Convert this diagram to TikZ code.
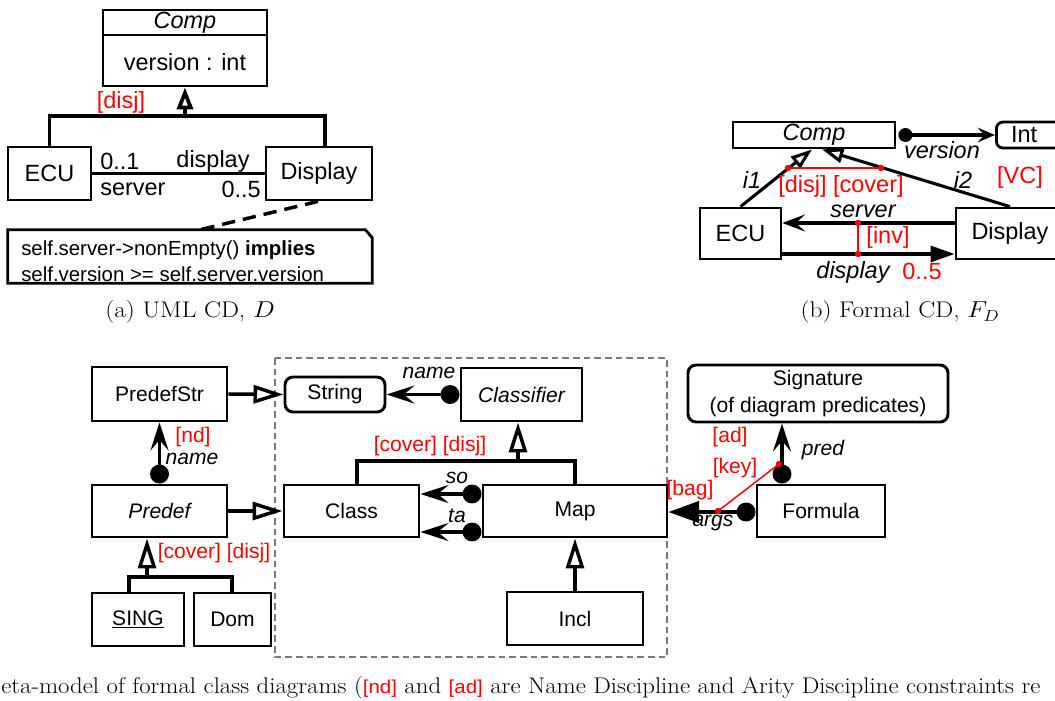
\documentclass[tikz,border=0pt]{standalone}
\usepackage{graphicx}
\usepackage{fontspec}
\newfontfamily\arial{Liberation Sans}
\usetikzlibrary{arrows.meta,calc}
\definecolor{cred}{RGB}{255,0,0}
\definecolor{frameg}{RGB}{120,120,120}
\begin{document}
\begin{tikzpicture}[x=0.75pt,y=-0.75pt,
  tbox/.style={draw, line width=2.1pt, fill=white, inner sep=0pt, font=\arial\fontsize{17.6}{20}\selectfont},
  bbox/.style={draw, line width=2.2pt, fill=white, inner sep=0pt, font=\arial\fontsize{15.8}{19}\selectfont},
  rbox/.style={bbox, rounded corners=6pt},
  conn/.style={line width=2.6pt},
  tconn/.style={line width=2.3pt},
  tlbl/.style={font=\arial\fontsize{17.6}{20}\selectfont, inner sep=0pt},
  blbl/.style={font=\arial\fontsize{15.8}{19}\selectfont, inner sep=0pt},
  rlbl/.style={text=cred},
  redline/.style={draw=cred, line width=1.1pt},
  gena/.style={-{Triangle[open, length=16.5pt, width=12pt]}},
  genb/.style={-{Triangle[open, length=16pt, width=11pt]}},
  genc/.style={-{Triangle[open, length=22.5pt, width=13.5pt]}},
  barbb/.style={-{Stealth[length=17pt, width=12.75pt, inset=7pt]}},
  barbv/.style={-{Stealth[length=13pt, width=11pt, inset=5pt]}},
  barbc/.style={-{Stealth[length=21pt, width=13.5pt, inset=8pt]}},
  fillb/.style={-{Triangle[length=18pt, width=12pt]}},
  fillc/.style={-{Triangle[length=23pt, width=16pt]}},
  capt/.style={font=\fontsize{17}{20}\selectfont, inner sep=0pt}
]
\useasboundingbox (0,0) rectangle (1055,700);
\clip (0,0) rectangle (1055,700);

% ================= (a) UML CD =================
\node (compA) [tbox, minimum width=123pt, minimum height=57pt] at (185,48) {};
\draw[line width=2.1pt] (103,35) -- (267,35);
\node[tlbl, font=\arial\itshape\fontsize{17.6}{20}\selectfont] at (185,23) {Comp};
\node[tlbl] at (185,62) {version : int};
\node (ecuA) [tbox, minimum width=62.25pt, minimum height=39.75pt] at (49.5,173.5) {ECU};
\node (dispA) [tbox, minimum width=79.5pt, minimum height=39.75pt] at (319,173.5) {Display};
\coordinate (barA) at (185,116);
\draw[conn, line width=2.8pt] (ecuA.north) |- (barA) -| ($(dispA.north)+(6,0)$);
\draw[conn, line width=2.8pt, gena] (barA) -- (compA.south);
\node[tlbl, rlbl] at (121,102) {[disj]};
\draw[tconn] (ecuA.east) -- (dispA.west);
\node[tlbl, anchor=west] at (100,161) {0..1};
\node[tlbl] at (213,161) {display};
\node[tlbl, anchor=west] at (100,189) {server};
\node[tlbl, anchor=east] at (261,189) {0..5};
% note
\node (note) [inner sep=0pt, minimum width=273pt, minimum height=39.75pt] at (190,256.5) {};
\draw[line width=2.1pt] (note.south west) -- (note.north west) -- ($(note.north east)+(-7,0)$) -- ($(note.north east)+(0,8)$) -- (note.south east) -- cycle;
\node[font=\arial\fontsize{15.3}{18}\selectfont, anchor=west, align=left, inner sep=0pt] at (21,261)
  {self.server->nonEmpty() \textbf{implies}\\[1.5pt]self.version >= self.server.version};
\draw[line width=2.6pt, dash pattern=on 10pt off 6pt] ($(dispA.south)+(-1,0)$) -- ($(note.north)+(10,0)$);
\node[capt] at (190,312) {\scalebox{1.12}[1]{(a) UML CD, $D$}};

% ================= (b) Formal CD =================
\node (compB) [tbox, minimum width=121.5pt, minimum height=19.5pt, font=\arial\itshape\fontsize{17.6}{20}\selectfont] at (814,135) {Comp};
\node (intB) [tbox, rounded corners=5pt, anchor=west, minimum height=19.5pt, text width=45pt, inner xsep=11pt, align=left] at (995,135) {Int};
\node (ecuB) [tbox, minimum width=60.75pt, minimum height=38.25pt] at (740.5,233.5) {ECU};
\node (dispB) [tbox, minimum width=81pt, minimum height=38.25pt] at (1010,233.5) {Display};
\fill ($(compB.east)+(9,0)$) circle[radius=5.25pt];
\draw[tconn, barbv] ($(compB.east)+(9,0)$) -- (intB.west);
\node[tlbl, font=\arial\itshape\fontsize{17.6}{20}\selectfont] at (942,150) {version};
\draw[tconn, genb] (ecuB.north) -- ($(compB.south)+(-2,0)$);
\draw[tconn, genb] (dispB.north) -- ($(compB.south)+(8,0)$);
\node[tlbl, font=\arial\itshape\fontsize{17.6}{20}\selectfont] at (752,180) {i1};
\node[tlbl, font=\arial\itshape\fontsize{17.6}{20}\selectfont] at (963,180) {i2};
\coordinate (dj1) at (788,168);
\coordinate (dj2) at (881,168);
\draw[redline] (dj1) -- (dj2);
\fill[cred] (dj1) circle[radius=2.4pt];
\fill[cred] (dj2) circle[radius=2.4pt];
\node[tlbl, rlbl] at (841,186) {[disj] [cover]};
\node[tlbl, rlbl] at (1020,177) {[VC]};
\draw[tconn, barbb] ($(dispB.west)+(0,-10.5)$) -- ($(ecuB.east)+(0,-10.5)$);
\draw[tconn, fillb] ($(ecuB.east)+(0,20.5)$) -- ($(dispB.west)+(0,20.5)$);
\node[tlbl, font=\arial\itshape\fontsize{17.6}{20}\selectfont] at (863,211) {server};
\node[tlbl, font=\arial\itshape\fontsize{17.6}{20}\selectfont] at (853,272) {display};
\node[tlbl, rlbl] at (922,271) {0..5};
\coordinate (iv1) at (858,223);
\coordinate (iv2) at (858,254);
\draw[redline] (iv1) -- (iv2);
\fill[cred] (iv1) circle[radius=2.4pt];
\fill[cred] (iv2) circle[radius=2.4pt];
\node[tlbl, rlbl] at (888,237) {[inv]};
\node[capt] at (900,312) {\scalebox{1.12}[1]{(b) Formal CD, $F_D$}};

% ================= Meta-model =================
\draw[frameg, line width=1.2pt, dash pattern=on 5pt off 3pt] (275,358) rectangle (667,657);
\node (predefStr) [bbox, minimum width=101.25pt, minimum height=40.5pt] at (159.5,394) {PredefStr};
\node (string) [rbox, minimum width=75pt, minimum height=26.25pt] at (335,394.5) {String};
\node (classifier) [bbox, minimum width=90.75pt, minimum height=39.75pt, font=\arial\itshape\fontsize{15.8}{19}\selectfont] at (521.5,394.5) {Classifier};
\node (signature) [rbox, minimum width=195pt, minimum height=42.75pt, align=center] at (818,393.5) {Signature\\[1pt](of diagram predicates)};
\node (predef) [bbox, minimum width=101.25pt, minimum height=39pt, font=\arial\itshape\fontsize{15.8}{19}\selectfont] at (159.5,511) {Predef};
\node (class) [bbox, minimum width=101.25pt, minimum height=39pt] at (351.5,511) {Class};
\node (map) [bbox, minimum width=138pt, minimum height=39pt] at (575,511) {Map};
\node (formula) [bbox, minimum width=96pt, minimum height=39pt] at (821,511) {Formula};
\node (sing) [bbox, minimum width=69pt, minimum height=39.75pt] at (138,619.5) {\underline{SING}};
\node (dom) [bbox, minimum width=57.75pt, minimum height=39.75pt] at (232.5,619.5) {Dom};
\node (incl) [bbox, minimum width=102pt, minimum height=39.75pt] at (575,618.5) {Incl};

% inheritance
\draw[conn, genc] (predefStr.east) -- (string.west);
\draw[conn, genc] (predef.east) -- (class.west);
\draw[conn, genc] (incl.north) -- (map.south);
\coordinate (barC) at (518,461);
\draw[conn] ($(class.north)+(5.5,0)$) |- (barC) -| (map.north);
\draw[conn, genc] (barC) -- ($(classifier.south)+(-3.5,0)$);
\node[blbl, rlbl] at (430,446) {[cover] [disj]};
\coordinate (barP) at (147,577);
\draw[conn] ($(sing.north)+(-9,0)$) |- (barP) -| ($(dom.north)+(-0.5,0)$);
\draw[conn, genc] (barP) -- ($(predef.south)+(-12.5,0)$);
\node[blbl, rlbl] at (214,553) {[cover] [disj]};

% attributes / references
\fill ($(predef.north)+(0,-9.5)$) circle[radius=7.1pt];
\draw[conn, barbc] ($(predef.north)+(0,-9.5)$) -- (predefStr.south);
\node[blbl, rlbl] at (193,437) {[nd]};
\node[blbl, font=\arial\itshape\fontsize{15.8}{19}\selectfont] at (192,459) {name};
\fill ($(classifier.west)+(-9.5,0)$) circle[radius=7.1pt];
\draw[conn, barbc] ($(classifier.west)+(-9.5,0)$) -- (string.east);
\node[blbl, font=\arial\itshape\fontsize{15.8}{19}\selectfont] at (429,373) {name};
\fill ($(map.west)+(-9.5,-17)$) circle[radius=7.1pt];
\draw[conn, barbc] ($(map.west)+(-9.5,-17)$) -- ($(class.east)+(0,-17)$);
\node[blbl, font=\arial\itshape\fontsize{15.8}{19}\selectfont] at (457,478) {so};
\fill ($(map.west)+(-9.5,21)$) circle[radius=7.1pt];
\draw[conn, barbc] ($(map.west)+(-9.5,21)$) -- ($(class.east)+(0,21)$);
\node[blbl, font=\arial\itshape\fontsize{15.8}{19}\selectfont] at (457,516) {ta};
\fill ($(formula.north)+(-39,-9.5)$) circle[radius=7.1pt];
\draw[conn, barbc] ($(formula.north)+(-39,-9.5)$) -- ($(signature.south)+(-36,0)$);
\node[blbl, font=\arial\itshape\fontsize{15.8}{19}\selectfont] at (823,450) {pred};
\fill ($(formula.west)+(-9.5,1)$) circle[radius=7.1pt];
\draw[conn, fillc] ($(formula.west)+(-9.5,1)$) -- ($(map.east)+(0,1)$);
\node[blbl, font=\arial\itshape\fontsize{15.8}{19}\selectfont] at (713,523) {args};
\coordinate (k1) at (718,511);
\coordinate (k2) at (779,464);
\draw[redline] (k1) -- (k2);
\fill[cred] (k1) circle[radius=2.4pt];
\fill[cred] (k2) circle[radius=2.4pt];
\node[blbl, rlbl] at (730,437) {[ad]};
\node[blbl, rlbl] at (735,468) {[key]};
\node[blbl, rlbl] at (690,490) {[bag]};

% bottom caption
\node[capt, anchor=base west] at (1,693) {\scalebox{1.095}[1]{eta-model of formal class diagrams ({\arial\fontsize{14}{16}\selectfont\color{cred}[nd]} and {\arial\fontsize{14}{16}\selectfont\color{cred}[ad]} are Name Discipline and Arity Discipline constraints re}};
\end{tikzpicture}
\end{document}
